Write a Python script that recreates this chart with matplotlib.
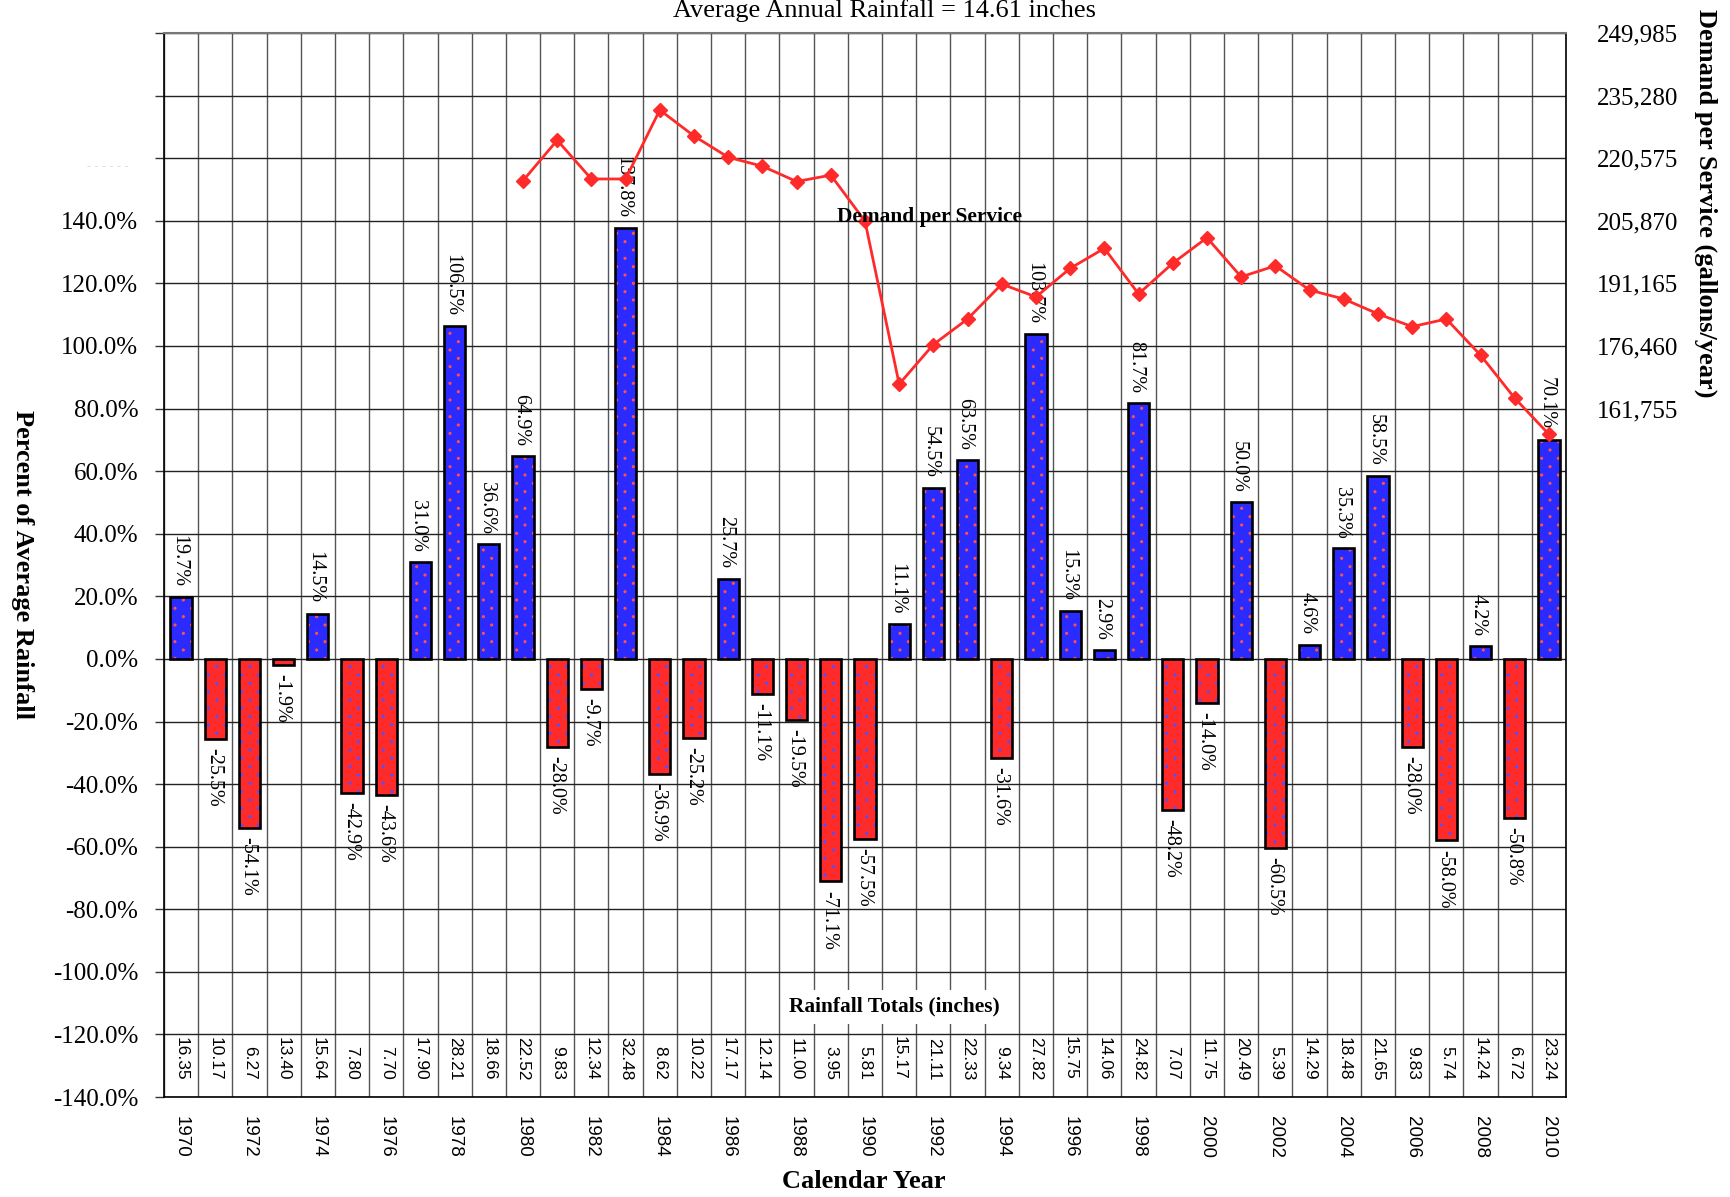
import matplotlib
matplotlib.use("Agg")
import matplotlib.pyplot as plt
import matplotlib.hatch as mhatch
from matplotlib.path import Path
import numpy as np

# ---------------- data ----------------
years = list(range(1970, 2011))
pct_of_avg = [19.7, -25.5, -54.1, -1.9, 14.5, -42.9, -43.6, 31.0, 106.5, 36.6,
              64.9, -28.0, -9.7, 137.8, -36.9, -25.2, 25.7, -11.1, -19.5, -71.1,
              -57.5, 11.1, 54.5, 63.5, -31.6, 103.7, 15.3, 2.9, 81.7, -48.2,
              -14.0, 50.0, -60.5, 4.6, 35.3, 58.5, -28.0, -58.0, 4.2, -50.8,
              70.1]
rain_totals = [16.35, 10.17, 6.27, 13.40, 15.64, 7.80, 7.70, 17.90, 28.21, 18.66,
               22.52, 9.83, 12.34, 32.48, 8.62, 10.22, 17.17, 12.14, 11.00, 3.95,
               5.81, 15.17, 21.11, 22.33, 9.34, 27.82, 15.75, 14.06, 24.82, 7.07,
               11.75, 20.49, 5.39, 14.29, 18.48, 21.65, 9.83, 5.74, 14.24, 6.72,
               23.24]
demand_years = list(range(1980, 2011))
demand = [215300, 224800, 215700, 215700, 231900, 225800, 220800, 218700, 215100, 216600,
          205800, 167500, 176800, 182800, 191000, 188000, 194700, 199400, 188700, 195900,
          201900, 192700, 195300, 189600, 187500, 184000, 181000, 182800, 174300, 164200,
          155700]
left_ticks = [-140, -120, -100, -80, -60, -40, -20, 0, 20, 40, 60, 80, 100, 120, 140, 160, 180, 200]
right_ticks = [161755, 176460, 191165, 205870, 220575, 235280, 249985]
right_max = 249985
avg_rain = 14.61


# ---------------- staggered dot hatch (replaces the '.' pattern) ----------------
class StaggerDots(mhatch.HatchPatternBase):
    def __init__(self, hatch, density):
        n = hatch.count(".") * 12
        circ = Path.unit_circle()
        self.cv = circ.vertices
        self.cc = circ.codes
        pts = []
        if n:
            for r in range(n + 1):
                for c in range(r % 2, n + 1, 2):
                    pts.append((c / n, r / n))
        self.pts = pts
        self.num_vertices = len(pts) * len(self.cv)

    def set_vertices_and_codes(self, vertices, codes):
        nv = len(self.cv)
        cur = 0
        for px, py in self.pts:
            vertices[cur:cur + nv] = self.cv * 0.010 + (px, py)
            codes[cur:cur + nv] = self.cc
            cur += nv


mhatch._hatch_types = [StaggerDots if t is mhatch.SmallFilledCircles else t
                       for t in mhatch._hatch_types]

# ---------------- styling ----------------
SERIF = "Liberation Serif"
SANS = "Liberation Sans"
BLUE = "#2B2BFF"
RED = "#FF2B2B"
LINE_RED = "#FF2A2A"

plt.rcParams["hatch.linewidth"] = 0.8

fig = plt.figure(figsize=(17.31, 11.97), dpi=100)
ax = fig.add_axes([0.0947, 0.0835, 0.8100, 0.8889])

x = np.arange(len(years))
ax.set_xlim(-0.5, len(years) - 0.5)
ax.set_ylim(left_ticks[0], left_ticks[-1])

# grid
ax.set_yticks(left_ticks)
ax.set_yticklabels([f"{t:.1f}%" if t <= 140 else "" for t in left_ticks],
                   family=SERIF, fontsize=18)
ax.set_xticks(np.arange(-0.5, len(years), 1), minor=True)
ax.set_xticks(x[::2])
ax.set_xticklabels([str(y) for y in years[::2]], rotation=270, family=SANS, fontsize=13.5)
ax.tick_params(axis="x", which="both", length=0, pad=14)
ax.tick_params(axis="y", which="major", left=True, right=True, length=6.5, width=1,
               pad=12, color="#333333")
ax.grid(axis="y", which="major", color="#222222", linewidth=1.0, zorder=1)
ax.grid(axis="x", which="minor", color="#555555", linewidth=1.0, zorder=1)
ax.grid(axis="x", which="major", visible=False)
ax.set_axisbelow(True)
for s in ["left", "right", "bottom"]:
    ax.spines[s].set_color("black")
    ax.spines[s].set_linewidth(1.2)
ax.spines["top"].set_color("#777777")
ax.spines["top"].set_linewidth(1.5)

# bars
face = [BLUE if v >= 0 else RED for v in pct_of_avg]
dots = ["#FF5050" if v >= 0 else "#5050FF" for v in pct_of_avg]
ax.bar(x, pct_of_avg, width=0.62, color=face, edgecolor=dots, linewidth=0,
       hatch=".", zorder=3)
ax.bar(x, pct_of_avg, width=0.62, fill=False, edgecolor="black", linewidth=1.9, zorder=3.2)

# bar value labels
for xi, v in zip(x, pct_of_avg):
    if v >= 0:
        ax.text(xi - 0.08, v + 3.2, f"{v:.1f}%", rotation=270, ha="center", va="bottom",
                family=SERIF, fontsize=14.5, zorder=5)
    else:
        ax.text(xi - 0.05, v - 2.9, f"{v:.1f}%", rotation=270, ha="center", va="top",
                family=SERIF, fontsize=14.5, zorder=5)

# rainfall totals row
for xi, r in zip(x, rain_totals):
    ax.text(xi, -134.6, f"{r:.2f}", rotation=270, ha="center", va="bottom",
            family=SANS, fontsize=12.5, zorder=5)
ax.text(20.85, -111.2, "Rainfall Totals (inches)", ha="center", va="center",
        family=SERIF, fontweight="bold", fontsize=15.4, zorder=6,
        bbox=dict(facecolor="white", edgecolor="none", pad=5))

# demand per service line on secondary axis
ax2 = ax.twinx()
ax2.set_ylim(0, right_max)
ax2.set_yticks(right_ticks)
ax2.set_yticklabels([f"{t:,}" for t in right_ticks], family=SERIF, fontsize=18)
ax2.tick_params(axis="y", length=0, pad=22)
for s in ax2.spines.values():
    s.set_visible(False)
dx = [years.index(y) for y in demand_years]
ax2.plot(dx, demand, color=LINE_RED, linewidth=2.0, marker="D", markersize=7,
         markerfacecolor=LINE_RED, markeredgecolor=LINE_RED, zorder=6)
ax2.text(21.9, 141.3, "Demand per Service", transform=ax.transData, ha="center",
         va="center", family=SERIF, fontweight="bold", fontsize=15.4, zorder=7)

# titles & axis labels
fig.text(0.5107, 1 - 17 / 1197, f"Average Annual Rainfall = {avg_rain:.2f} inches",
         ha="center", va="baseline", family=SERIF, fontsize=19)
fig.text(0.013, 0.528, "Percent of Average Rainfall", rotation=270, ha="center",
         va="center", family=SERIF, fontweight="bold", fontsize=19)
fig.text(0.9856, 0.830, "Demand per Service (gallons/year)", rotation=270, ha="center",
         va="center", family=SERIF, fontweight="bold", fontsize=19)
fig.text(864 / 1731, 1 - 1182 / 1197, "Calendar Year", ha="center", va="center",
         family=SERIF, fontweight="bold", fontsize=19)
fig.text(108 / 1731, 1 - 167 / 1197, "- - - - - -", ha="center", va="center",
         family=SANS, fontsize=9, color="#d8d8d8")

fig.savefig("out.png", dpi=100)
